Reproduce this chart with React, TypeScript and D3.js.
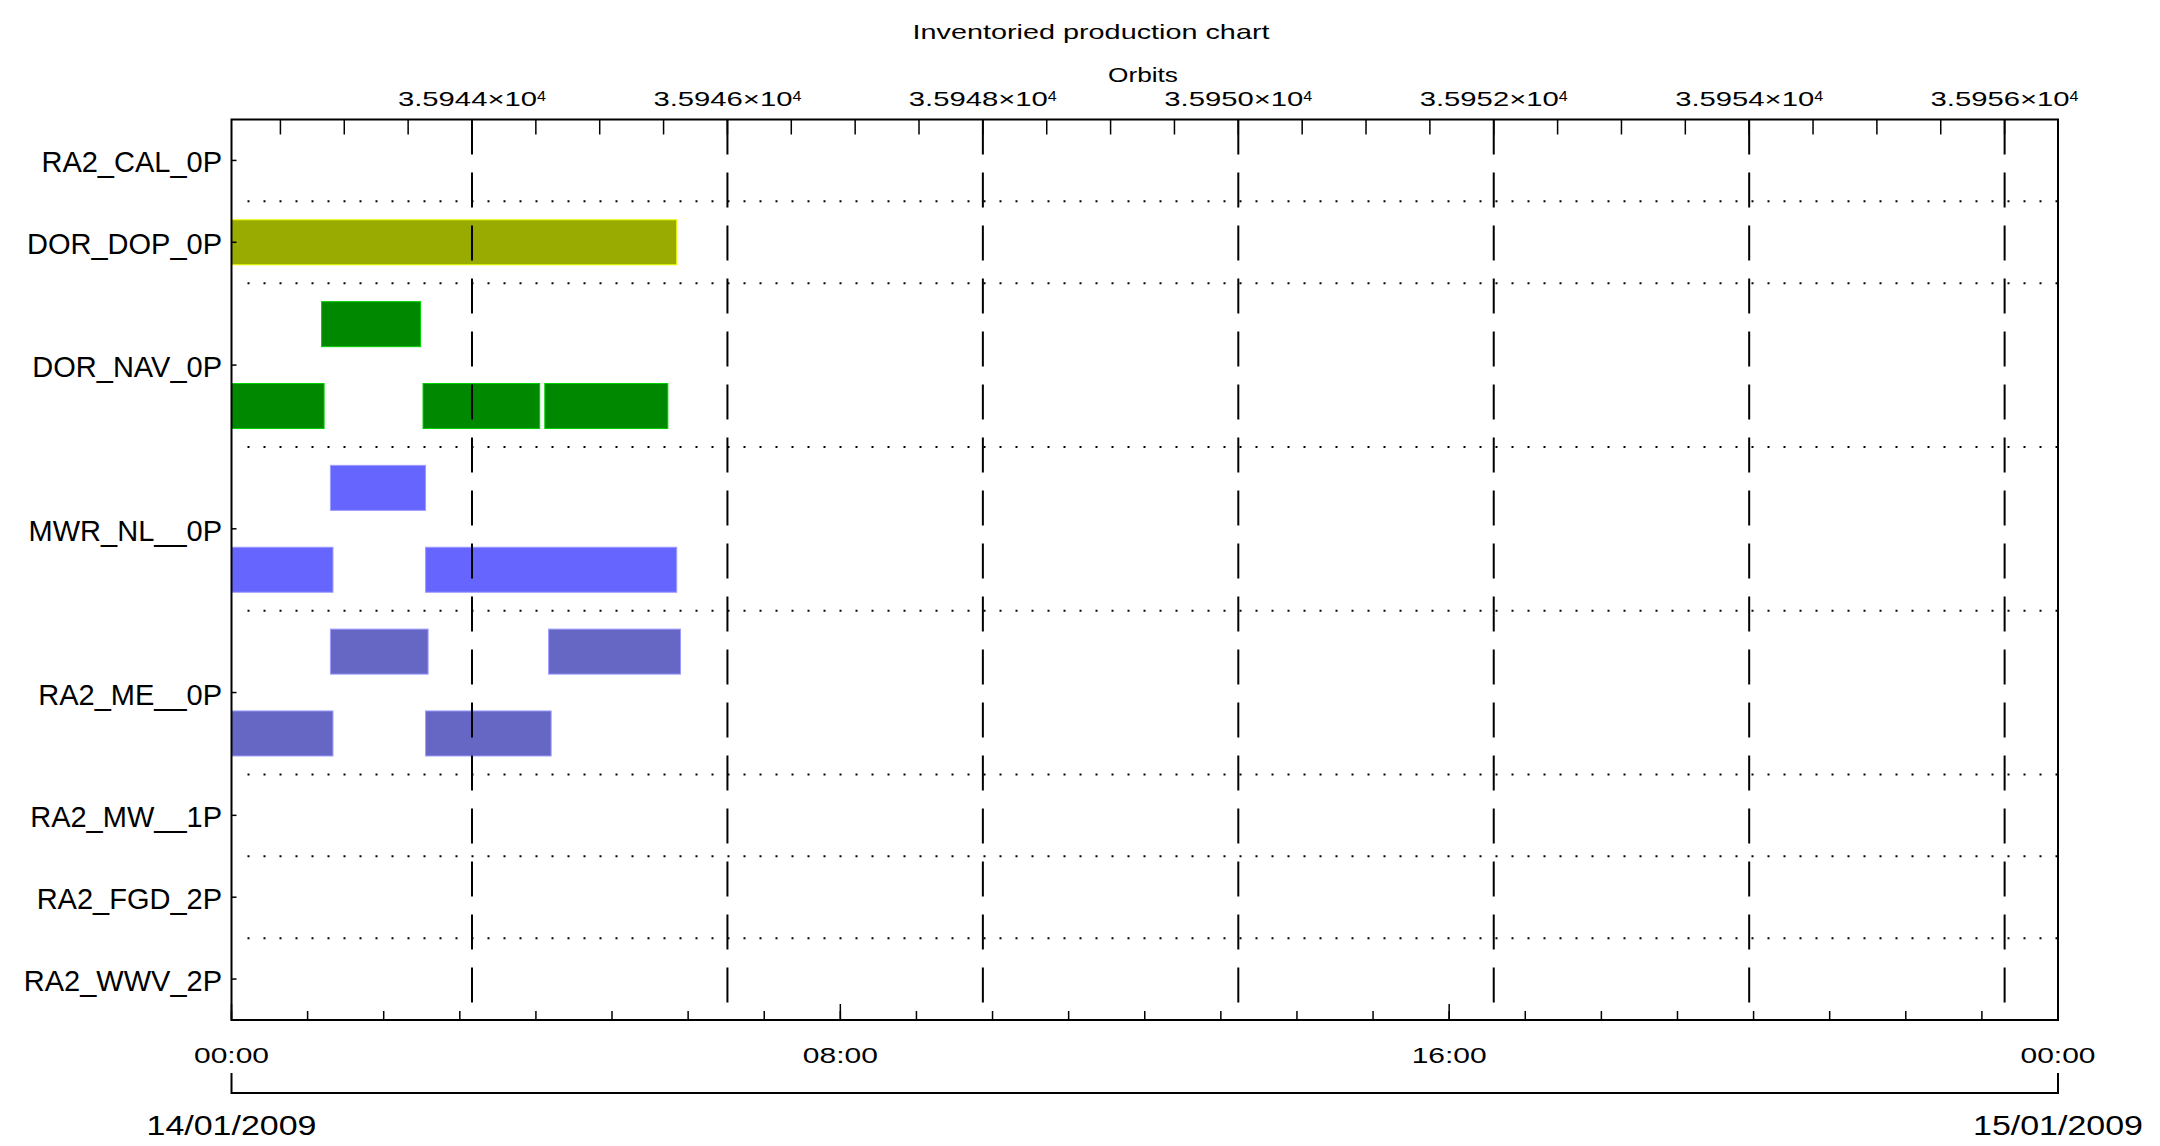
import React from 'react';
import * as d3 from 'd3';

// ---------- data ----------
const TITLE = 'Inventoried production chart';
const ORBIT_TITLE = 'Orbits';
const PRODUCTS = ['RA2_CAL_0P', 'DOR_DOP_0P', 'DOR_NAV_0P', 'MWR_NL__0P', 'RA2_ME__0P', 'RA2_MW__1P', 'RA2_FGD_2P', 'RA2_WWV_2P'];
const PRODUCT_LANES = [1, 1, 2, 2, 2, 1, 1, 1];
const DAY_START = Date.UTC(2009, 0, 14, 0, 0);
const DAY_END = Date.UTC(2009, 0, 15, 0, 0);
const ORBIT_DOMAIN = [35942.117, 35956.418];
const ORBIT_MAJOR = [35944, 35946, 35948, 35950, 35952, 35954, 35956];
const ORBIT_LABELS = ['3.5944', '3.5946', '3.5948', '3.5950', '3.5952', '3.5954', '3.5956'];
const ORBIT_EXP = '4';
const TIME_LABELS = ['00:00', '08:00', '16:00', '00:00'];
const DATE_LABELS = ['14/01/2009', '15/01/2009'];

// [lane, start, end] in HH:MM of 14/01/2009
const DOR_DOP_BARS: [number, string, string][] = [[0, '00:00', '05:51']];
const DOR_NAV_BARS: [number, string, string][] = [[0, '01:11', '02:29'], [1, '00:00', '01:13'], [1, '02:31', '04:03'], [1, '04:07', '05:44']];
const MWR_NL_BARS: [number, string, string][] = [[0, '01:18', '02:33'], [1, '00:00', '01:20'], [1, '02:33', '05:51']];
const RA2_ME_BARS: [number, string, string][] = [[0, '01:18', '02:35'], [0, '04:10', '05:54'], [1, '00:00', '01:20'], [1, '02:33', '04:12']];

const PRODUCT_BARS: Record<string, [number, string, string][]> = {
  DOR_DOP_0P: DOR_DOP_BARS,
  DOR_NAV_0P: DOR_NAV_BARS,
  MWR_NL__0P: MWR_NL_BARS,
  RA2_ME__0P: RA2_ME_BARS,
};
const PRODUCT_COLORS: Record<string, string> = {
  DOR_DOP_0P: '#99aa00',
  DOR_NAV_0P: '#008800',
  MWR_NL__0P: '#6666ff',
  RA2_ME__0P: '#6666c4',
};

// ---------- layout ----------
const W = 2160, H = 1146;
const L = 231.5, R = 2058, T = 119.5, B = 1020;
const FONT = '"Liberation Sans", Arial, sans-serif';

function toDate(hm: string) {
  const [h, m] = hm.split(':').map(Number);
  return new Date(DAY_START + (h * 60 + m) * 60000);
}

export default function App() {
  const x = d3.scaleUtc().domain([new Date(DAY_START), new Date(DAY_END)]).range([L, R]);
  const xo = d3.scaleLinear().domain(ORBIT_DOMAIN).range([L, R]);
  const totalLanes = d3.sum(PRODUCT_LANES);
  const y = d3.scaleLinear().domain([0, totalLanes]).range([T, B]);
  const laneH = y(1) - y(0);
  const barH = laneH * 0.55;

  const rowStarts: number[] = [];
  PRODUCT_LANES.reduce((acc, n) => { rowStarts.push(acc); return acc + n; }, 0);

  const minorOrbit = d3.range(Math.ceil(ORBIT_DOMAIN[0] * 2) / 2, ORBIT_DOMAIN[1], 0.5);
  const hours = d3.utcHour.range(new Date(DAY_START), new Date(DAY_END + 1));
  const majorHours = d3.utcHour.every(8)!.range(new Date(DAY_START), new Date(DAY_END + 1));
  const days = [new Date(DAY_START), new Date(DAY_END)];

  const dotStart = L + 16;

  return (
    <svg width={W} height={H} style={{ position: 'absolute', left: 0, top: 0, background: '#fff' }} fontFamily={FONT}>
      <rect x={0} y={0} width={W} height={H} fill="#fff" />
      {/* title */}
      <text x={1091} y={39} fontSize={21} textAnchor="middle" textLength={357} lengthAdjust="spacingAndGlyphs">{TITLE}</text>
      <text x={1143} y={82} fontSize={20} textAnchor="middle" textLength={70} lengthAdjust="spacingAndGlyphs">{ORBIT_TITLE}</text>

      {/* row separators (dotted) */}
      {rowStarts.slice(1).map((s, i) => (
        <line key={'sep' + i} x1={dotStart} x2={R} y1={y(s)} y2={y(s)} stroke="#000" strokeWidth={2} strokeDasharray="2 14" />
      ))}

      {/* bars */}
      {PRODUCTS.map((p, pi) => (PRODUCT_BARS[p] || []).map(([lane, s, e], bi) => {
        const cy = y(rowStarts[pi] + lane + 0.5);
        const x0 = x(toDate(s)), x1 = x(toDate(e));
        const c = PRODUCT_COLORS[p];
        return (
          <rect key={p + bi} x={x0} y={cy - barH / 2} width={x1 - x0} height={barH} fill={c}
            stroke={d3.color(c)!.brighter(1.2).formatHex()} strokeWidth={1} />
        );
      }))}

      {/* orbit major dashed grid lines */}
      {ORBIT_MAJOR.map((o) => (
        <line key={'g' + o} x1={xo(o)} x2={xo(o)} y1={T} y2={B} stroke="#000" strokeWidth={2} strokeDasharray="35 18" />
      ))}

      {/* top orbit minor ticks */}
      {minorOrbit.map((o) => (
        <line key={'to' + o} x1={xo(o)} x2={xo(o)} y1={T} y2={T + 15} stroke="#000" strokeWidth={1.5} />
      ))}
      {/* orbit labels */}
      {ORBIT_MAJOR.map((o, i) => (
        <g key={'ol' + o}>
          <text x={xo(o) - 74} y={106} fontSize={21} textLength={139} lengthAdjust="spacingAndGlyphs">{ORBIT_LABELS[i] + '\u00d710'}</text>
          <text x={xo(o) + 65} y={101} fontSize={14} textLength={9} lengthAdjust="spacingAndGlyphs">{ORBIT_EXP}</text>
        </g>
      ))}

      {/* bottom time ticks */}
      {hours.map((h, i) => (
        <line key={'bt' + i} x1={x(h)} x2={x(h)} y1={B} y2={B - 9} stroke="#000" strokeWidth={1.5} />
      ))}
      {majorHours.map((h, i) => (
        <line key={'bm' + i} x1={x(h)} x2={x(h)} y1={B} y2={B - 16} stroke="#000" strokeWidth={1.5} />
      ))}
      {majorHours.map((h, i) => (
        <text key={'tl' + i} x={x(h)} y={1063} fontSize={22} textAnchor="middle" textLength={75} lengthAdjust="spacingAndGlyphs">{TIME_LABELS[i]}</text>
      ))}

      {/* y ticks and labels */}
      {PRODUCTS.map((p, pi) => {
        const cy = y(rowStarts[pi] + PRODUCT_LANES[pi] / 2);
        return (
          <g key={'yl' + p}>
            <line x1={L} x2={L + 5} y1={cy} y2={cy} stroke="#000" strokeWidth={1.5} />
            <text x={222} y={cy + 12} fontSize={29} textAnchor="end">{p}</text>
          </g>
        );
      })}

      {/* frame */}
      <rect x={L} y={T} width={R - L} height={B - T} fill="none" stroke="#000" strokeWidth={2} />

      {/* date bracket */}
      <path d={`M${x(days[0])},1073V1093H${x(days[1])}V1073`} fill="none" stroke="#000" strokeWidth={2} />
      {days.map((d, i) => (
        <text key={'dl' + i} x={x(d)} y={1135} fontSize={28} textAnchor="middle" textLength={170} lengthAdjust="spacingAndGlyphs">{DATE_LABELS[i]}</text>
      ))}
    </svg>
  );
}
